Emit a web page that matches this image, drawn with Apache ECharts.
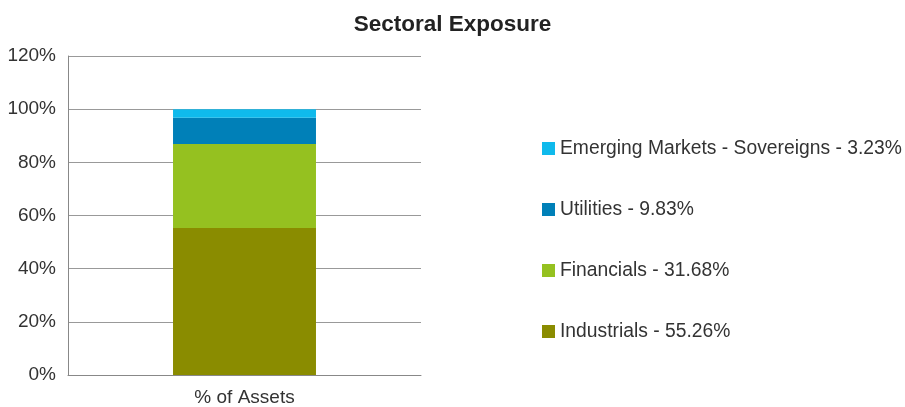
<!DOCTYPE html>
<html><head><meta charset="utf-8">
<script src="https://cdn.jsdelivr.net/npm/echarts@6/dist/echarts.min.js"></script>
<style>html,body{margin:0;padding:0;background:#fff}#c{width:905px;height:407px}</style>
</head><body><div id="c"></div>
<script>
const categories = ['% of Assets'];
const seriesNames = ['Industrials', 'Financials', 'Utilities', 'Emerging Markets - Sovereigns'];
const industrials = [55.26];
const financials = [31.68];
const utilities = [9.83];
const emergingSovereigns = [3.23];
const yTicks = [0, 20, 40, 60, 80, 100, 120];
const colors = ['#8A8C00', '#95C120', '#0080B8', '#0FBAEC'];
const values = [industrials, financials, utilities, emergingSovereigns];

const chart = echarts.init(document.getElementById('c'));
const font = 'Liberation Sans, Arial, sans-serif';
chart.setOption({
  animation: false,
  title: {
    text: 'Sectoral Exposure', left: 'center', top: 8,
    textStyle: { fontFamily: font, fontSize: 22.5, fontWeight: 'bold', color: '#222' }
  },
  legend: {
    orient: 'vertical', left: 537, top: 134,
    data: seriesNames.slice().reverse(),
    itemWidth: 13, itemHeight: 13, itemGap: 42,
    icon: 'rect',
    formatter: function (name) {
      const i = seriesNames.indexOf(name);
      return name + ' - ' + values[i][0].toFixed(2) + '%';
    },
    textStyle: { fontFamily: font, fontSize: 19.3, color: '#333', lineHeight: 19 }
  },
  grid: { left: 68, right: 484, top: 56, bottom: 31 },
  xAxis: {
    type: 'category', data: categories,
    axisLine: { lineStyle: { color: '#888', width: 1 } },
    axisTick: { show: false },
    axisLabel: { fontFamily: font, fontSize: 19, color: '#333', margin: 13 }
  },
  yAxis: {
    type: 'value', min: yTicks[0], max: yTicks[yTicks.length - 1], interval: 20,
    axisLine: { show: true, lineStyle: { color: '#888', width: 1 } },
    axisTick: { show: false },
    splitLine: { lineStyle: { color: '#999', width: 1 } },
    axisLabel: { fontFamily: font, fontSize: 19, color: '#333', margin: 12, formatter: '{value}%' }
  },
  series: seriesNames.map((n, i) => ({
    name: n, type: 'bar', stack: 'total', data: values[i],
    barWidth: '40.5%',
    itemStyle: { color: colors[i] }
  }))
});
</script></body></html>
